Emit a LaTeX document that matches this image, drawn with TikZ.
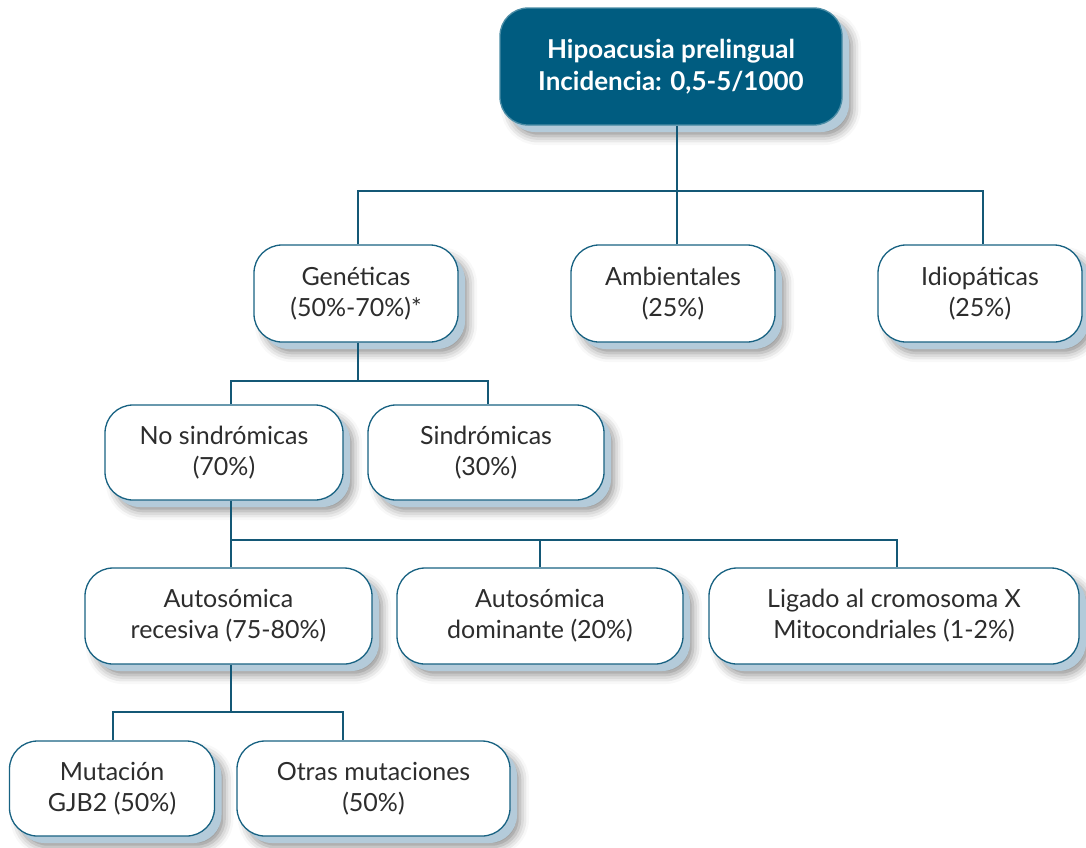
\documentclass[tikz,border=0pt]{standalone}
\usepackage{fontspec}
\setmainfont{Lato}
\usetikzlibrary{shadows,shadows.blur}
\definecolor{teal}{RGB}{0,92,128}
\definecolor{edgeteal}{RGB}{24,98,130}
\definecolor{linkteal}{RGB}{20,88,118}
\definecolor{shadowblue}{RGB}{180,203,218}
\definecolor{txt}{RGB}{45,45,45}
\tikzset{
  box/.style={
    rounded corners=28pt, draw=edgeteal, line width=1.3pt, fill=white,
    align=center, text=txt, font=\fontsize{25}{31}\selectfont,
    inner sep=0pt,
    blur shadow={shadow xshift=10pt, shadow yshift=-11pt, shadow blur radius=9pt, shadow opacity=45},
    copy shadow={shadow xshift=7pt, shadow yshift=-7pt, fill=shadowblue, draw=none}},
  headbox/.style={box, fill=teal, draw=teal!70!white, text=white,
    font=\bfseries\fontsize{26}{32}\selectfont},
  link/.style={draw=linkteal, line width=1.6pt},
}
\begin{document}
\begin{tikzpicture}[x=1pt,y=-1pt]
\useasboundingbox (0,0) rectangle (1086,847);

% boxes of the tree
\node[headbox, minimum width=342pt, minimum height=117pt] (top) at (671,66.5)
  {Hipoacusia prelingual\\Incidencia: 0,5-5/1000};

\node[box, minimum width=204pt, minimum height=97pt] (gen) at (356,293.5)
  {Genéticas\\(50\%-70\%)*};
\node[box, minimum width=204pt, minimum height=97pt] (amb) at (673,293.5)
  {Ambientales\\(25\%)};
\node[box, minimum width=204pt, minimum height=97pt] (idio) at (980,293.5)
  {Idiopáticas\\(25\%)};

\node[box, minimum width=238pt, minimum height=95pt] (nos) at (224,452.5)
  {No sindrómicas\\(70\%)};
\node[box, minimum width=236pt, minimum height=95pt] (sin) at (486,452.5)
  {Sindrómicas\\(30\%)};

\node[box, minimum width=287pt, minimum height=96pt] (rec) at (228.5,616)
  {Autosómica\\recesiva (75-80\%)};
\node[box, minimum width=286pt, minimum height=96pt] (dom) at (540,616)
  {Autosómica\\dominante (20\%)};
\node[box, minimum width=370pt, minimum height=96pt] (lig) at (894,616)
  {Ligado al cromosoma X\\Mitocondriales (1-2\%)};

\node[box, minimum width=205pt, minimum height=95pt] (mut) at (112,788.5)
  {Mutación\\GJB2 (50\%)};
\node[box, minimum width=273pt, minimum height=95pt] (otr) at (373.5,788.5)
  {Otras mutaciones\\(50\%)};

% connectors
\coordinate (j1) at ([xshift=6pt]top.south |- 0,191);
\draw[link] ([xshift=6pt]top.south) -- (j1);
\draw[link] ([xshift=2pt]gen.north) |- (j1) -| ([xshift=3pt]idio.north);
\draw[link] ([xshift=4pt]amb.north) -- ([xshift=4pt]amb.north |- j1);

\coordinate (j2) at ([xshift=2pt]gen.south |- 0,381);
\draw[link] ([xshift=2pt]gen.south) -- (j2);
\draw[link] ([xshift=7pt]nos.north) |- (j2) -| ([xshift=2pt]sin.north);

\coordinate (j3) at ([xshift=7pt]nos.south |- 0,540);
\draw[link] ([xshift=7pt]nos.south) -- (j3);
\draw[link] ([xshift=2.5pt]rec.north) |- (j3) -| ([xshift=3pt]lig.north);
\draw[link] (dom.north) -- (dom.north |- j3);

\coordinate (j4) at ([xshift=2.5pt]rec.south |- 0,712);
\draw[link] ([xshift=2.5pt]rec.south) -- (j4);
\draw[link] ([xshift=1pt]mut.north) |- (j4) -| ([xshift=-30.5pt]otr.north);
\end{tikzpicture}
\end{document}
